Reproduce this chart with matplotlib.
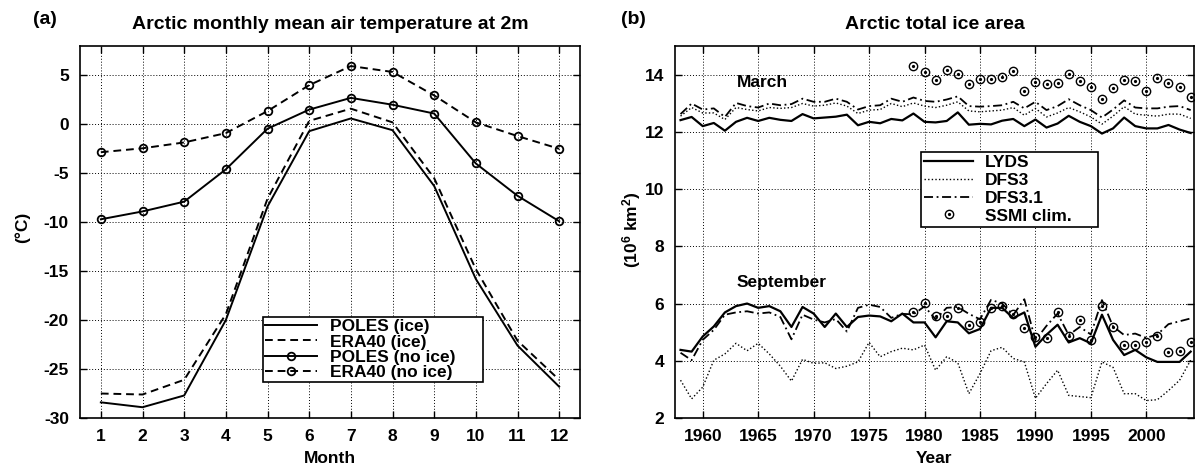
import numpy as np
import matplotlib
matplotlib.use("Agg")
import matplotlib.pyplot as plt
from matplotlib.lines import Line2D

plt.rcParams["font.family"] = ["Liberation Sans", "DejaVu Sans"]
plt.rcParams["font.weight"] = "bold"
plt.rcParams["axes.unicode_minus"] = False
plt.rcParams["mathtext.fontset"] = "custom"
plt.rcParams["mathtext.bf"] = "Liberation Sans:bold"
plt.rcParams["mathtext.default"] = "bf"

# panel (a): monthly 2m air temperature
months = list(range(1, 13))
poles_ice = [-28.4, -28.9, -27.7, -20.0, -8.4, -0.7, 0.6, -0.6, -6.3, -15.8, -22.6, -26.8]
era_ice = [-27.5, -27.6, -26.1, -19.4, -7.6, 0.35, 1.6, 0.2, -5.5, -14.8, -22.1, -26.1]
poles_noice = [-9.7, -8.9, -7.9, -4.6, -0.45, 1.5, 2.7, 2.0, 1.1, -4.0, -7.3, -9.9]
era_noice = [-2.85, -2.45, -1.85, -0.9, 1.35, 4.0, 5.95, 5.35, 2.95, 0.2, -1.2, -2.5]

# panel (b): ice area, 1958-2004
years = list(range(1958, 2005))
ssmi_years = list(range(1979, 2005))

lyds_mar = [12.41, 12.52, 12.2, 12.31, 12.04, 12.35, 12.49, 12.38, 12.49, 12.42, 12.38, 12.62,
            12.47, 12.5, 12.53, 12.6, 12.23, 12.35, 12.3, 12.45, 12.4, 12.64,
            12.35, 12.33, 12.38, 12.68, 12.25, 12.28, 12.26, 12.39, 12.45, 12.2,
            12.43, 12.15, 12.29, 12.56, 12.35, 12.2, 11.94, 12.12, 12.5, 12.2,
            12.12, 12.12, 12.24, 12.08, 11.96]
dfs31_mar = [12.62, 12.99, 12.78, 12.82, 12.52, 13.01, 12.9, 12.85, 12.99, 12.93, 12.97, 13.16,
             13.05, 13.05, 13.16, 13.05, 12.78, 12.9, 12.93, 13.16, 13.05, 13.2,
             13.08, 13.05, 13.13, 13.24, 12.9, 12.88, 12.9, 12.93, 13.05, 12.82,
             13.05, 12.76, 12.9, 13.14, 12.93, 12.76, 12.5, 12.78, 13.1, 12.85,
             12.82, 12.82, 12.88, 12.9, 12.76]
dfs3_mar = [12.55, 12.85, 12.66, 12.66, 12.43, 12.85, 12.78, 12.73, 12.85, 12.82, 12.85, 12.99,
            12.9, 12.93, 13.01, 12.9, 12.64, 12.76, 12.78, 12.99, 12.88, 13.01,
            12.9, 12.85, 12.93, 13.05, 12.73, 12.7, 12.73, 12.76, 12.85, 12.58,
            12.82, 12.52, 12.66, 12.85, 12.7, 12.52, 12.27, 12.55, 12.88, 12.62,
            12.58, 12.55, 12.62, 12.62, 12.47]
ssmi_mar = [14.3, 14.09, 13.8, 14.17, 14.01, 13.66, 13.84, 13.84, 13.92, 14.13, 13.43, 13.74,
            13.66, 13.71, 14.01, 13.78, 13.57, 13.14, 13.52, 13.8, 13.78, 13.42, 13.87,
            13.69, 13.57, 13.22]

lyds_sep = [4.38, 4.32, 4.85, 5.2, 5.69, 5.91, 6.0, 5.85, 5.91, 5.73, 5.18, 5.88,
            5.65, 5.18, 5.65, 5.18, 5.53, 5.58, 5.55, 5.38, 5.65, 5.34,
            5.34, 4.82, 5.38, 5.34, 4.96, 5.11, 5.85, 5.85, 5.49, 5.69,
            4.49, 4.91, 5.26, 4.64, 4.79, 4.61, 5.61, 4.73, 4.2, 4.38,
            4.12, 3.96, 3.96, 3.96, 4.32]
dfs31_sep = [4.28, 4.02, 4.73, 5.08, 5.61, 5.69, 5.73, 5.65, 5.69, 5.53, 4.75, 5.61,
             5.44, 5.34, 5.46, 5.02, 5.85, 5.96, 5.88, 5.5, 5.64, 5.62,
             5.9, 5.45, 5.85, 5.88, 5.64, 5.45, 6.13, 6.0, 5.6, 6.15,
             4.72, 5.22, 5.65, 4.9, 5.18, 4.92, 6.12, 5.2, 4.9, 4.95,
             4.8, 4.92, 5.28, 5.38, 5.48]
dfs3_sep = [3.32, 2.67, 3.08, 4.02, 4.24, 4.61, 4.35, 4.61, 4.24, 3.81, 3.29, 4.05,
            3.91, 3.93, 3.73, 3.81, 3.96, 4.64, 4.14, 4.32, 4.44, 4.38,
            4.55, 3.67, 4.14, 3.93, 2.85, 3.55, 4.35, 4.47, 4.08, 3.96,
            2.69, 3.2, 3.67, 2.79, 2.75, 2.71, 3.96, 3.77, 2.85, 2.85,
            2.61, 2.64, 2.96, 3.32, 4.02]
ssmi_sep = [5.72, 6.03, 5.55, 5.58, 5.83, 5.25, 5.37, 5.85, 5.93, 5.65, 5.13, 4.82,
            4.79, 5.69, 4.85, 5.41, 4.71, 5.91, 5.18, 4.55, 4.55, 4.66, 4.87,
            4.32, 4.35, 4.67]

fig = plt.figure(figsize=(11.96, 4.72), dpi=100)
ax1 = fig.add_axes([80 / 1196, 54 / 472, 500 / 1196, 372 / 472])
ax2 = fig.add_axes([675 / 1196, 54 / 472, 519 / 1196, 372 / 472])

fs = 12.5
for ax in (ax1, ax2):
    ax.grid(True, ls=(0, (1, 2)), color="black", lw=0.7)
    ax.tick_params(direction="in", top=True, right=True, length=5, width=1,
                   labelsize=fs, pad=8)
    for s in ax.spines.values():
        s.set_linewidth(1.2)
    ax.set_axisbelow(True)

# left panel
dash = (0, (4, 2.5))
ax1.plot(months, poles_ice, color="black", lw=1.4, label="POLES (ice)")
ax1.plot(months, era_ice, color="black", lw=1.4, ls=dash, label="ERA40 (ice)")
ax1.plot(months, poles_noice, color="black", lw=1.4, marker="o", ms=5.5, mfc="none",
         mew=1.3, label="POLES (no ice)")
ax1.plot(months, era_noice, color="black", lw=1.4, ls=dash, marker="o", ms=5.5, mfc="none",
         mew=1.3, label="ERA40 (no ice)")
ax1.set_xlim(0.5, 12.5)
ax1.set_ylim(-30, 8)
ax1.set_xticks(months)
ax1.set_yticks(np.arange(-30, 6, 5))
ax1.set_xlabel("Month", fontsize=fs, fontweight="bold", labelpad=5)
ax1.set_title("Arctic monthly mean air temperature at 2m", fontsize=14, fontweight="bold", pad=12)
leg1 = ax1.legend(loc="lower left", bbox_to_anchor=(0.366, 0.097, 0.44, 0.19),
                  mode="expand", borderaxespad=0,
                  fancybox=False, edgecolor="black", framealpha=1, handlelength=3.0,
                  handletextpad=0.75, labelspacing=0.0, borderpad=0.12,
                  prop={"weight": "bold", "size": fs})
leg1.get_frame().set_linewidth(1.2)

# right panel
dot = (0, (1, 1.6))
dashdot = (0, (5, 2, 1, 2))
ax2.plot(years, lyds_mar, color="black", lw=1.6)
ax2.plot(years, dfs3_mar, color="black", lw=1.0, ls=dot)
ax2.plot(years, dfs31_mar, color="black", lw=1.3, ls=dashdot)
ax2.plot(years, lyds_sep, color="black", lw=1.6)
ax2.plot(years, dfs3_sep, color="black", lw=1.0, ls=dot)
ax2.plot(years, dfs31_sep, color="black", lw=1.3, ls=dashdot)
for vals in (ssmi_mar, ssmi_sep):
    ax2.plot(ssmi_years, vals, ls="none", marker="o", ms=6, mfc="none", mec="black", mew=1.0)
    ax2.plot(ssmi_years, vals, ls="none", marker="o", ms=1.3, color="black")

ax2.set_xlim(1957.5, 2004.3)
ax2.set_ylim(2, 15)
ax2.set_xticks(range(1960, 2001, 5))
ax2.set_yticks(range(2, 15, 2))
ax2.set_xlabel("Year", fontsize=fs, fontweight="bold", labelpad=5)
ax2.set_title("Arctic total ice area", fontsize=14, fontweight="bold", pad=12)
ax2.text(1965.4, 13.73, "March", fontsize=fs, fontweight="bold", ha="center", va="center")
ax2.text(1967.1, 6.74, "September", fontsize=fs, fontweight="bold", ha="center", va="center")

h_lyds = Line2D([], [], color="black", lw=1.6)
h_dfs3 = Line2D([], [], color="black", lw=1.0, ls=dot)
h_dfs31 = Line2D([], [], color="black", lw=1.3, ls=dashdot)
h_ss1 = Line2D([], [], ls="none", marker="o", ms=6, mfc="none", mec="black", mew=1.0)
h_ss2 = Line2D([], [], ls="none", marker="o", ms=1.3, color="black")
leg2 = ax2.legend([h_lyds, h_dfs3, h_dfs31, (h_ss1, h_ss2)],
                  ["LYDS", "DFS3", "DFS3.1", "SSMI clim."],
                  loc="upper left", bbox_to_anchor=(0.474, 0.5, 0.341, 0.216),
                  mode="expand", borderaxespad=0,
                  fancybox=False, edgecolor="black", framealpha=1, handlelength=2.8,
                  handletextpad=0.7, labelspacing=0.15, borderpad=0.2,
                  prop={"weight": "bold", "size": fs})
leg2.get_frame().set_linewidth(1.2)

fig.text(22 / 1196, 1 - 227 / 472, "(°C)", rotation=90, fontsize=fs, fontweight="bold",
         ha="center", va="center")
fig.text(632 / 1196, 1 - 230 / 472, r"(10$^{6}$ km$^{2}$)", rotation=90, fontsize=fs,
         fontweight="bold", ha="center", va="center")
fig.text(45 / 1196, 1 - 20 / 472, "(a)", fontsize=14, fontweight="bold", ha="center", va="center")
fig.text(633 / 1196, 1 - 20 / 472, "(b)", fontsize=14, fontweight="bold", ha="center", va="center")

fig.savefig("out.png", dpi=100)
